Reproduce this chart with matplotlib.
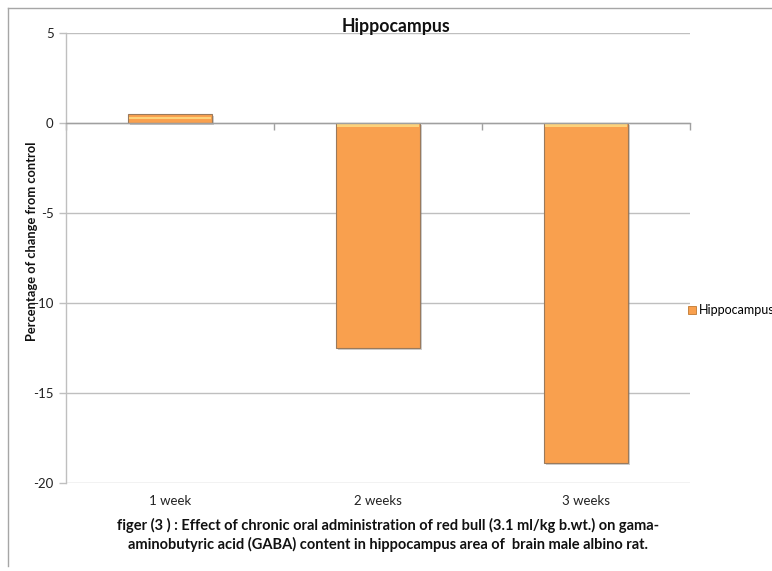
import matplotlib
matplotlib.use("Agg")
import matplotlib.pyplot as plt
import matplotlib.patheffects as pe
from matplotlib.patches import Rectangle
from matplotlib.lines import Line2D
import matplotlib.transforms as mtransforms

plt.rcParams['font.family'] = ['Lato', 'DejaVu Sans']

categories = ["1 week", "2 weeks", "3 weeks"]
values = [0.5, -12.5, -18.9]
series_name = "Hippocampus"
title = "Hippocampus"
ylabel = "Percentage of change from control"
caption = ("figer (3 ) : Effect of chronic oral administration of red bull (3.1 ml/kg b.wt.) on gama-\n"
           "aminobutyric acid (GABA) content in hippocampus area of  brain male albino rat.")
yticks = [5, 0, -5, -10, -15, -20]

bar_color = "#F9A04E"
edge_color = "#9a7a5c"
grid_color = "#BFBFBF"

fig = plt.figure(figsize=(7.72, 5.71), dpi=100)
ax = fig.add_axes([0.0855, 0.1541, 0.8083, 0.7881])

# outer chart-area frame (top and left edges)
fig.add_artist(Line2D([8/772, 1.0], [1-8/571, 1-8/571], color="#A6A6A6", lw=1.0))
fig.add_artist(Line2D([8/772, 8/772], [1-8/571, 1-566/571], color="#A6A6A6", lw=1.0))

x = list(range(len(categories)))
bars = ax.bar(x, values, width=0.4, color=bar_color, edgecolor=edge_color,
              linewidth=0.8, zorder=3)
for b in bars:
    b.set_path_effects([pe.SimplePatchShadow(offset=(1.5, -1.5), alpha=0.35, shadow_rgbFace="#777777"),
                        pe.Normal()])

# light bevel band along the edge of each bar nearest the zero line
for xi, v in zip(x, values):
    if v < 0:
        band = 0.2
        ax.add_patch(Rectangle((xi - 0.195, -band), 0.39, band,
                               color="#FDD27A", lw=0, zorder=4))
    else:
        ax.add_patch(Rectangle((xi - 0.195, v * 0.4), 0.39, v * 0.3,
                               color="#FDD27A", lw=0, zorder=4))

ax.set_xlim(-0.5, len(categories) - 0.5)
ax.set_ylim(-20, 5)
ax.set_yticks(yticks)
ax.set_yticklabels([str(t) for t in yticks])
ax.yaxis.grid(True, color=grid_color, lw=1.0, zorder=0)
ax.set_axisbelow(True)

for s in ["top", "right"]:
    ax.spines[s].set_visible(False)
ax.spines["left"].set_color(grid_color)
ax.spines["left"].set_linewidth(1.0)
ax.spines["bottom"].set_position(("data", 0))
ax.spines["bottom"].set_color("#A0A0A0")
ax.spines["bottom"].set_linewidth(1.0)
ax.spines["bottom"].set_zorder(5)

ax.set_xticks([i - 0.5 for i in range(len(categories) + 1)])
ax.set_xticklabels([])
ax.tick_params(axis="x", direction="out", length=5, color="#A0A0A0", width=1)
ax.tick_params(axis="y", direction="out", length=5, color=grid_color, width=1,
               labelsize=9.5, pad=4, labelcolor="#222222")

# category labels below the plot area
trans = mtransforms.blended_transform_factory(ax.transData, ax.transAxes)
for xi, c in zip(x, categories):
    ax.text(xi, -0.04, c, transform=trans, ha="center", va="center",
            fontsize=9.5, color="#222222")

fig.text(396/772, 1 - 32/571, title, ha="center", va="baseline",
         fontsize=12.7, fontweight="bold", color="#111111")
ax.set_ylabel(ylabel, fontsize=9.3, fontweight="bold", color="#111111")
ax.yaxis.label.set_va("center")
ax.yaxis.set_label_coords(-34/624, 1 - (241 - 33)/450)

fig.text(388/772, 1 - 535/571, caption, ha="center", va="center",
         fontsize=10.5, fontweight="bold", linespacing=1.3, color="#111111")

# legend
handle = Rectangle((0, 0), 1, 1, facecolor=bar_color, edgecolor="#c07830", lw=0.6)
fig.legend([handle], [series_name], loc="center left",
           bbox_to_anchor=(688/772, 1 - 310/571), frameon=False,
           fontsize=9.0, handlelength=0.6, handleheight=0.6, handletextpad=0.25,
           borderaxespad=0, borderpad=0)

fig.savefig("out.png", dpi=100)
